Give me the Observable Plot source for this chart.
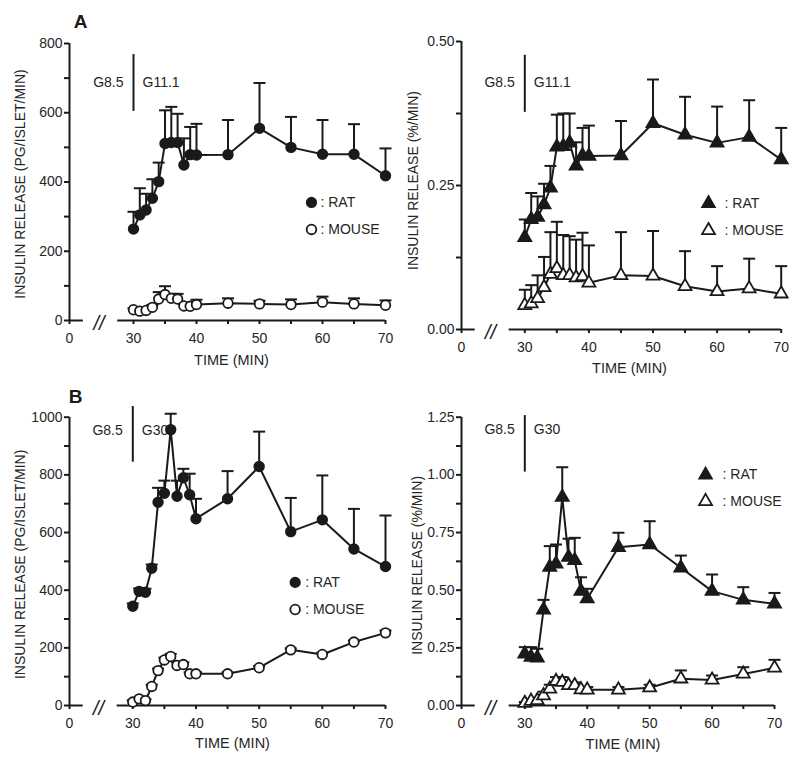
<!DOCTYPE html>
<html>
<head>
<meta charset="utf-8">
<script src="https://cdn.jsdelivr.net/npm/d3@7"></script>
<script src="https://cdn.jsdelivr.net/npm/@observablehq/plot@0.6"></script>
<style>
  body { margin: 0; background: #fff; }
  #grid { display: grid; grid-template-columns: 400px 400px; grid-template-rows: 380px 385px; width: 800px; height: 765px; }
  #grid svg { display: block; }
</style>
</head>
<body>
<div id="grid"></div>
<script>
// ---------------- DATA ----------------
const time = [30, 31, 32, 33, 34, 35, 36, 37, 38, 39, 40, 45, 50, 55, 60, 65, 70];

// Panel A (G8.5 -> G11.1), pg/islet/min
const ratA_pg      = [264, 305, 319, 353, 401, 511, 514, 514, 449, 479, 478, 479, 555, 500, 480, 480, 418];
const ratA_pg_sem  = [50, 77, 47, 55, 55, 96, 103, 83, 77, 80, 90, 100, 131, 88, 99, 87, 79];
const mouseA_pg     = [31, 27, 29, 38, 62, 75, 64, 62, 42, 41, 46, 50, 48, 46, 53, 48, 44];
const mouseA_pg_sem = [4, 3, 4, 7, 20, 24, 13, 15, 6, 7, 14, 14, 9, 15, 16, 16, 14];

// Panel A, %/min
const ratA_pct      = [0.160, 0.191, 0.195, 0.217, 0.246, 0.317, 0.318, 0.324, 0.284, 0.302, 0.301, 0.302, 0.358, 0.338, 0.324, 0.334, 0.295];
const ratA_pct_sem  = [0.031, 0.046, 0.036, 0.036, 0.038, 0.056, 0.057, 0.051, 0.041, 0.048, 0.053, 0.060, 0.076, 0.066, 0.063, 0.064, 0.055];
const mouseA_pct     = [0.042, 0.045, 0.054, 0.073, 0.096, 0.106, 0.094, 0.094, 0.090, 0.092, 0.081, 0.094, 0.093, 0.075, 0.066, 0.071, 0.062];
const mouseA_pct_sem = [0.027, 0.032, 0.040, 0.053, 0.073, 0.081, 0.070, 0.068, 0.066, 0.076, 0.065, 0.075, 0.078, 0.061, 0.044, 0.052, 0.048];

// Panel B (G8.5 -> G30), pg/islet/min
const ratB_pg      = [344, 396, 393, 476, 705, 736, 957, 726, 790, 731, 648, 717, 829, 603, 644, 543, 482];
const ratB_pg_sem  = [10, 10, 12, 13, 50, 44, 55, 54, 31, 73, 69, 96, 121, 117, 154, 139, 177];
const mouseB_pg     = [12, 23, 17, 66, 121, 158, 170, 139, 142, 110, 110, 110, 131, 193, 177, 220, 252];
const mouseB_pg_sem = [6, 3, 5, 6, 7, 8, 9, 11, 8, 5, 5, 5, 6, 5, 6, 5, 8];

// Panel B, %/min
const ratB_pct      = [0.224, 0.210, 0.207, 0.415, 0.600, 0.614, 0.903, 0.643, 0.629, 0.496, 0.463, 0.686, 0.698, 0.597, 0.496, 0.458, 0.441];
const ratB_pct_sem  = [0.029, 0.043, 0.039, 0.043, 0.091, 0.084, 0.130, 0.080, 0.098, 0.060, 0.043, 0.063, 0.101, 0.053, 0.072, 0.055, 0.047];
const mouseB_pct     = [0.010, 0.019, 0.022, 0.043, 0.072, 0.105, 0.101, 0.087, 0.087, 0.069, 0.068, 0.068, 0.077, 0.116, 0.111, 0.137, 0.163];
const mouseB_pct_sem = [0.005, 0.006, 0.006, 0.017, 0.018, 0.018, 0.022, 0.013, 0.013, 0.011, 0.012, 0.012, 0.013, 0.036, 0.019, 0.029, 0.035];

// ticks
const xTicks = [0, 30, 40, 50, 60, 70];
const xMinorTicks = [35, 45, 55, 65];
const yTicksA_pg = [0, 200, 400, 600, 800];
const yMinorA_pg = [100, 300, 500, 700];
const yTicksA_pct = [0, 0.25, 0.5];
const yMinorA_pct = [0.125, 0.375];
const yTicksB_pg = [0, 200, 400, 600, 800, 1000];
const yMinorB_pg = [100, 300, 500, 700, 900];
const yTicksB_pct = [0, 0.25, 0.5, 0.75, 1.0, 1.25];
const yMinorB_pct = [0.125, 0.375, 0.625, 0.875, 1.125];

// texts
const labelPg = "INSULIN RELEASE (PG/ISLET/MIN)";
const labelPct = "INSULIN RELEASE (%/MIN)";
const labelTime = "TIME (MIN)";
const legendRat = ": RAT";
const legendMouse = ": MOUSE";

// ---------------- DRAWING ----------------
const ink = "#1a1a1a";
const textInk = "#262626";
const capSymbol = {
  draw(ctx, size) {
    const w = Math.sqrt(size / Math.PI);
    ctx.moveTo(-w, 0);
    ctx.lineTo(w, 0);
  }
};

function rows(values, sem) {
  return time.map((t, i) => ({t, v: values[i], hi: values[i] + sem[i]}));
}

function makePanel(c) {
  const rat = rows(c.rat, c.ratSem);
  const mouse = rows(c.mouse, c.mouseSem);
  const sym = c.symbol;
  const series = [
    {data: rat, fill: ink},
    {data: mouse, fill: "white"}
  ];
  const marks = [];
  // axes lines (with broken x axis)
  marks.push(Plot.ruleX([0], {y1: 0, y2: c.yMax, stroke: ink, strokeWidth: 2}));
  marks.push(Plot.ruleY([0], {x1: 0, x2: 6.5, stroke: ink, strokeWidth: 2}));
  marks.push(Plot.ruleY([0], {x1: 22.6, x2: 70, stroke: ink, strokeWidth: 2}));
  marks.push(Plot.text(["//"], {x: 13.8, y: 0, dy: 3, fontSize: 20, fontStyle: "italic", fill: ink}));
  marks.push(Plot.axisY({ticks: c.yTicks, tickFormat: c.fmt, tickSize: 5, tickPadding: 2, strokeWidth: 2, stroke: ink, color: textInk, label: null, fontSize: 14}));
  marks.push(Plot.axisY({ticks: c.yMinor, tickFormat: () => "", tickSize: 5, strokeWidth: 2, stroke: ink, label: null}));
  marks.push(Plot.axisX({ticks: xTicks, tickFormat: d3.format("d"), tickSize: 4, tickPadding: 9, strokeWidth: 2, stroke: ink, color: textInk, label: null, fontSize: 14}));
  marks.push(Plot.axisX({ticks: xMinorTicks, tickFormat: () => "", tickSize: 4, strokeWidth: 2, stroke: ink, label: null}));
  // axis labels
  marks.push(Plot.text([labelTime], {frameAnchor: "bottom", textAnchor: "middle", lineAnchor: "middle", dx: c.xlabDx, dy: c.xlabDy, fontSize: 14.5, fill: textInk}));
  marks.push(Plot.text([c.ylabel], {frameAnchor: "left", textAnchor: "middle", lineAnchor: "middle", dx: c.ylabDx, dy: c.ylabDy, rotate: -90, fontSize: 14, fill: textInk}));
  // panel letter
  if (c.letter) {
    marks.push(Plot.text([c.letter], {frameAnchor: "top-left", textAnchor: "middle", lineAnchor: "middle", dx: c.letterDx, dy: c.letterDy, fontSize: 19, fontWeight: "bold", fill: ink}));
  }
  // glucose switch annotation
  marks.push(Plot.ruleX([30], {y1: c.gLo, y2: c.gHi, stroke: ink, strokeWidth: 2}));
  marks.push(Plot.text(["G8.5"], {x: 30, y: c.gText, textAnchor: "end", dx: -10, fontSize: 14, fill: textInk}));
  marks.push(Plot.text([c.gLabel], {x: 30, y: c.gText, textAnchor: "start", dx: 9, fontSize: 14, fill: textInk}));
  // error bars
  for (const s of series) {
    marks.push(Plot.ruleX(s.data, {x: "t", y1: "v", y2: "hi", stroke: ink, strokeWidth: 2}));
    marks.push(Plot.dot(s.data, {x: "t", y: "hi", symbol: capSymbol, r: 6, stroke: ink, strokeWidth: 2, fill: "none"}));
  }
  // lines and markers
  for (const s of series) {
    marks.push(Plot.line(s.data, {x: "t", y: "v", stroke: ink, strokeWidth: 2}));
  }
  for (const s of series) {
    marks.push(Plot.dot(s.data, {x: "t", y: "v", symbol: sym, r: 4.8, fill: s.fill, stroke: ink, strokeWidth: 1.8}));
  }
  // legend
  marks.push(Plot.dot([0], {x: c.legX, y: c.legRatY, symbol: sym, r: 4.8, fill: ink, stroke: ink, strokeWidth: 1.6}));
  marks.push(Plot.dot([0], {x: c.legX, y: c.legMouseY, symbol: sym, r: 4.8, fill: "white", stroke: ink, strokeWidth: 1.8}));
  marks.push(Plot.text([legendRat], {x: c.legX, y: c.legRatY, dx: c.legDx, textAnchor: "start", fontSize: 14, fill: textInk}));
  marks.push(Plot.text([legendMouse], {x: c.legX, y: c.legMouseY, dx: c.legDx, textAnchor: "start", fontSize: 14, fill: textInk}));

  return Plot.plot({
    width: 400,
    height: c.height,
    marginLeft: c.mL, marginRight: c.mR, marginTop: c.mT, marginBottom: c.mB,
    style: {fontFamily: "'Liberation Sans', Arial, Helvetica, sans-serif", fontSize: "14px", background: "white", color: textInk, overflow: "visible"},
    x: {type: "linear", domain: [0, 30, 70], range: c.xRange},
    y: {type: "linear", domain: [0, c.yMax], range: [c.height - c.mB, c.mT]},
    marks
  });
}

const fmtInt = d3.format("d");
const fmt2 = d3.format(".2f");

const panels = [
  {
    height: 380, mL: 69, mR: 15, mT: 43, mB: 60, xRange: [69, 133, 385],
    yMax: 800, yTicks: yTicksA_pg, yMinor: yMinorA_pg, fmt: fmtInt,
    rat: ratA_pg, ratSem: ratA_pg_sem, mouse: mouseA_pg, mouseSem: mouseA_pg_sem,
    symbol: "circle", ylabel: labelPg, ylabDx: -49, ylabDy: 2, xlabDx: 4, xlabDy: 40,
    letter: "A", letterDx: 11, letterDy: -22,
    gLo: 604, gHi: 768, gText: 687, gLabel: "G11.1",
    legX: 58.25, legRatY: 341, legMouseY: 263, legDx: 9
  },
  {
    height: 380, mL: 61, mR: 19, mT: 41, mB: 51, xRange: [61, 124.3, 380.7],
    yMax: 0.5, yTicks: yTicksA_pct, yMinor: yMinorA_pct, fmt: fmt2,
    rat: ratA_pct, ratSem: ratA_pct_sem, mouse: mouseA_pct, mouseSem: mouseA_pct_sem,
    symbol: "triangle", ylabel: labelPct, ylabDx: -48, ylabDy: -5, xlabDx: 8, xlabDy: 39,
    letter: null,
    gLo: 0.377, gHi: 0.476, gText: 0.429, gLabel: "G11.1",
    legX: 58.66, legRatY: 0.219, legMouseY: 0.172, legDx: 16
  },
  {
    height: 385, mL: 69, mR: 15, mT: 36.7, mB: 60, xRange: [69, 132.3, 385],
    yMax: 1000, yTicks: yTicksB_pg, yMinor: yMinorB_pg, fmt: fmtInt,
    rat: ratB_pg, ratSem: ratB_pg_sem, mouse: mouseB_pg, mouseSem: mouseB_pg_sem,
    symbol: "circle", ylabel: labelPg, ylabDx: -49, ylabDy: 3, xlabDx: 5, xlabDy: 38,
    letter: "B", letterDx: 6, letterDy: -20,
    gLo: 844, gHi: 1037, gText: 954, gLabel: "G30",
    legX: 55.7, legRatY: 427, legMouseY: 333, legDx: 10
  },
  {
    height: 385, mL: 61, mR: 26, mT: 36.7, mB: 60, xRange: [61, 124.3, 374],
    yMax: 1.25, yTicks: yTicksB_pct, yMinor: yMinorB_pct, fmt: fmt2,
    rat: ratB_pct, ratSem: ratB_pct_sem, mouse: mouseB_pct, mouseSem: mouseB_pct_sem,
    symbol: "triangle", ylabel: labelPct, ylabDx: -44, ylabDy: 4, xlabDx: 5, xlabDy: 39,
    letter: null,
    gLo: 1.012, gHi: 1.257, gText: 1.197, gLabel: "G30",
    legX: 58.96, legRatY: 1.0, legMouseY: 0.885, legDx: 17
  }
];

const grid = document.getElementById("grid");
for (const c of panels) grid.appendChild(makePanel(c));
</script>
</body>
</html>
